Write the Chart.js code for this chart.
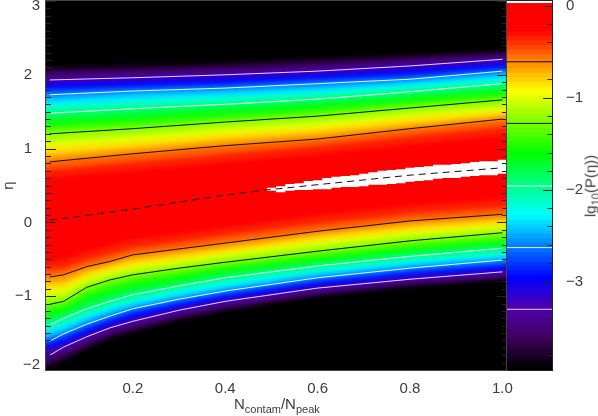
<!DOCTYPE html>
<html lang="en">
<head>
<meta charset="UTF-8">
<title>P(eta) map</title>
<script src="https://cdn.jsdelivr.net/npm/chart.js@4"></script>
<style>
    body { margin: 0; background: #fff; }
    canvas { position: absolute; top: 0; }
    .lbl { position: absolute; font: 15px "Liberation Sans", sans-serif; color: #3c3c3c; white-space: nowrap; }
    .lbl sub { font-size: 11px; line-height: 0; }
</style>
</head>
<body>
<canvas id="map" width="598" height="416" style="left:0"></canvas>
<canvas id="bar" width="91" height="416" style="left:507px"></canvas>
<div class="lbl" style="left:234px;top:395px">N<sub>contam</sub>/N<sub>peak</sub></div>
<div class="lbl" style="left:590px;top:186px;transform:translate(-50%,-50%) rotate(-90deg)">lg<sub>10</sub>(P(η))</div>

<script>
// axis limits and ticks
const xMin = 0.012, xMax = 1.01, yMin = -2, yMax = 3;
const xTicks = [0.2, 0.4, 0.6, 0.8, 1.0];
const yTicks = [-2, -1, 0, 1, 2, 3];
const barMin = -3.96, barMax = 0.05;
const barTicks = [-3, -2, -1, 0];

// lg10(P) of each band
const levels = [-3.95, -3.79, -3.63, -3.46, -3.30, -3.13, -2.96, -2.80, -2.63, -2.46, -2.30, -2.13,
    -1.96, -1.79, -1.62, -1.45, -1.28, -1.11, -0.95, -0.78, -0.61, -0.45, -0.30];

// eta where each level crosses above the peak, one row per level
// (end columns run a little past the axis, the plot area clips them)
const upperX = [0, 0.2, 0.4, 0.6, 0.8, 1.03];
const upperEta = [
    [2.12, 2.15, 2.17, 2.23, 2.28, 2.34],
    [2.07, 2.09, 2.13, 2.19, 2.24, 2.31],
    [2.02, 2.05, 2.08, 2.13, 2.20, 2.27],
    [1.97, 2.00, 2.04, 2.09, 2.16, 2.24],
    [1.93, 1.96, 2.00, 2.05, 2.12, 2.21],
    [1.88, 1.92, 1.96, 2.01, 2.08, 2.17],
    [1.82, 1.86, 1.90, 1.96, 2.02, 2.13],
    [1.78, 1.82, 1.86, 1.92, 1.98, 2.09],
    [1.73, 1.78, 1.82, 1.88, 1.94, 2.05],
    [1.66, 1.73, 1.77, 1.82, 1.90, 2.01],
    [1.60, 1.66, 1.71, 1.77, 1.85, 1.96],
    [1.54, 1.60, 1.66, 1.73, 1.81, 1.92],
    [1.48, 1.54, 1.60, 1.67, 1.77, 1.88],
    [1.41, 1.47, 1.55, 1.62, 1.71, 1.82],
    [1.33, 1.40, 1.48, 1.55, 1.66, 1.77],
    [1.27, 1.33, 1.41, 1.50, 1.60, 1.71],
    [1.20, 1.27, 1.36, 1.44, 1.55, 1.66],
    [1.10, 1.18, 1.28, 1.36, 1.48, 1.59],
    [1.01, 1.09, 1.20, 1.28, 1.41, 1.52],
    [0.91, 1.01, 1.12, 1.21, 1.33, 1.47],
    [0.82, 0.93, 1.04, 1.13, 1.27, 1.40],
    [0.71, 0.82, 0.93, 1.04, 1.17, 1.31],
    [0.60, 0.71, 0.82, 0.93, 1.06, 1.20]
];

// same thing below the peak
const lowerX = [0, 0.05, 0.1, 0.15, 0.2, 0.3, 0.4, 0.6, 0.8, 1.03];
const lowerEta = [
    [-2.03, -1.89, -1.73, -1.59, -1.50, -1.34, -1.21, -1.01, -0.88, -0.77],
    [-1.97, -1.84, -1.69, -1.55, -1.46, -1.30, -1.17, -0.98, -0.85, -0.74],
    [-1.92, -1.80, -1.65, -1.51, -1.42, -1.27, -1.15, -0.96, -0.82, -0.73],
    [-1.85, -1.74, -1.59, -1.47, -1.38, -1.23, -1.11, -0.92, -0.79, -0.70],
    [-1.80, -1.69, -1.55, -1.43, -1.34, -1.19, -1.07, -0.89, -0.77, -0.67],
    [-1.74, -1.65, -1.51, -1.39, -1.30, -1.15, -1.04, -0.86, -0.73, -0.63],
    [-1.70, -1.61, -1.47, -1.35, -1.25, -1.12, -1.00, -0.82, -0.70, -0.59],
    [-1.65, -1.55, -1.42, -1.31, -1.21, -1.08, -0.97, -0.79, -0.66, -0.55],
    [-1.61, -1.51, -1.38, -1.27, -1.17, -1.04, -0.93, -0.75, -0.62, -0.51],
    [-1.55, -1.46, -1.32, -1.21, -1.13, -1.00, -0.89, -0.71, -0.58, -0.47],
    [-1.50, -1.40, -1.28, -1.17, -1.08, -0.96, -0.85, -0.67, -0.54, -0.43],
    [-1.44, -1.35, -1.23, -1.12, -1.04, -0.90, -0.79, -0.63, -0.50, -0.39],
    [-1.39, -1.30, -1.17, -1.07, -0.98, -0.86, -0.75, -0.59, -0.46, -0.35],
    [-1.32, -1.24, -1.11, -1.00, -0.92, -0.81, -0.70, -0.54, -0.40, -0.29],
    [-1.25, -1.19, -1.02, -0.92, -0.85, -0.75, -0.64, -0.50, -0.36, -0.25],
    [-1.17, -1.12, -0.96, -0.86, -0.78, -0.69, -0.59, -0.44, -0.31, -0.20],
    [-1.11, -1.07, -0.88, -0.78, -0.71, -0.62, -0.54, -0.39, -0.25, -0.14],
    [-1.01, -0.98, -0.81, -0.72, -0.65, -0.56, -0.47, -0.32, -0.18, -0.08],
    [-0.93, -0.89, -0.74, -0.65, -0.58, -0.50, -0.41, -0.25, -0.12, -0.02],
    [-0.83, -0.81, -0.67, -0.59, -0.51, -0.43, -0.35, -0.18, -0.05, 0.05],
    [-0.74, -0.71, -0.60, -0.53, -0.44, -0.36, -0.28, -0.12, 0.02, 0.11],
    [-0.64, -0.62, -0.51, -0.43, -0.35, -0.27, -0.18, -0.02, 0.11, 0.21],
    [-0.54, -0.51, -0.40, -0.32, -0.24, -0.16, -0.08, 0.09, 0.22, 0.32]
];

// contour lines: rows of the tables above, and the lg10(P) they sit at on the colour bar
const contourRows = [4, 8, 12, 16, 20];
const contourLevels = [-3.30, -2.63, -1.96, -1.28, -0.61];
const contourColors = ['rgba(255,255,255,0.85)', 'rgba(255,255,255,0.9)', 'rgba(255,255,255,0.9)', '#111', '#111'];
const contourUpperX = [0.02, 0.2, 0.4, 0.6, 0.8, 1.0];
const contourLowerX = [0.02, 0.05, 0.1, 0.15, 0.2, 0.3, 0.4, 0.6, 0.8, 1.0];

// dashed line through the peak
const peakX = [0.02, 0.2, 0.4, 0.49, 0.8, 1.0];
const peakEta = [0.03, 0.18, 0.37, 0.44, 0.64, 0.74];

// saturated cells (white), one entry per 0.02 wide column starting at x = 0.49
const whiteStart = 0.49, whiteStep = 0.02;
const whiteTop = [0.47, 0.49, 0.52, 0.53, 0.56, 0.57, 0.60, 0.62, 0.63, 0.64, 0.66, 0.68, 0.70,
    0.71, 0.72, 0.74, 0.75, 0.76, 0.78, 0.78, 0.79, 0.80, 0.82, 0.83, 0.83, 0.85];
const whiteBottom = [0.43, 0.41, 0.43, 0.44, 0.44, 0.45, 0.45, 0.47, 0.48, 0.48, 0.49, 0.51, 0.51,
    0.52, 0.53, 0.55, 0.56, 0.57, 0.59, 0.60, 0.60, 0.62, 0.63, 0.64, 0.64, 0.66];

// colour table, lg10(P) -> rgb
const colorStops = [
    [-3.96, 0, 0, 0], [-3.63, 64, 0, 96], [-3.30, 80, 0, 176], [-2.98, 0, 0, 255], [-2.63, 0, 128, 255],
    [-2.30, 0, 255, 255], [-1.96, 0, 255, 128], [-1.63, 0, 255, 0], [-1.28, 128, 255, 0],
    [-0.95, 255, 255, 0], [-0.62, 255, 128, 0], [-0.30, 255, 0, 0], [0.02, 255, 0, 0]
];

function colorFor(v) {
    if (v <= colorStops[0][0]) return 'rgb(0,0,0)';
    for (let i = 1; i < colorStops.length; i++) {
        const a = colorStops[i - 1], b = colorStops[i];
        if (v <= b[0]) {
            const t = (v - a[0]) / (b[0] - a[0]);
            return 'rgb(' + [1, 2, 3].map(k => Math.round(a[k] + (b[k] - a[k]) * t)).join(',') + ')';
        }
    }
    return 'rgb(255,0,0)';
}

function zip(xs, ys) {
    return xs.map((x, i) => ({x: x, y: ys[i]}));
}

function area(points, color) {
    return {data: points, showLine: true, fill: 'shape', backgroundColor: color, borderColor: 'transparent',
        borderWidth: 0, pointRadius: 0, pointHoverRadius: 0};
}

function line(points, color, dash) {
    return {data: points, showLine: true, fill: false, borderColor: color, borderWidth: 1,
        borderDash: dash || [], pointRadius: 0, pointHoverRadius: 0};
}

function whiteCells() {
    const top = [], bottom = [];
    whiteTop.forEach((v, i) => {
        const x0 = whiteStart + i * whiteStep, x1 = x0 + whiteStep;
        top.push({x: x0, y: v}, {x: x1, y: v});
        bottom.push({x: x0, y: whiteBottom[i]}, {x: x1, y: whiteBottom[i]});
    });
    return top.concat(bottom.reverse());
}

// first dataset ends up on top, so lines come first and the black ground last
const mapSets = [];
contourRows.forEach((row, i) => {
    mapSets.push(line(zip(contourUpperX, upperEta[row]), contourColors[i]));
    mapSets.push(line(zip(contourLowerX, lowerEta[row]), contourColors[i]));
});
mapSets.push(line(zip(peakX, peakEta), '#111', [7, 5]));
const sharpCount = mapSets.length + 1; // lines + white cells, no blur on those
mapSets.push(area(whiteCells(), '#fff'));
for (let i = levels.length - 1; i >= 0; i--) {
    const mid = i + 1 < levels.length ? (levels[i] + levels[i + 1]) / 2 : levels[i];
    const up = zip(upperX, upperEta[i]);
    const low = zip(lowerX, lowerEta[i]).reverse();
    mapSets.push(area(up.concat(low), colorFor(mid)));
}
// ground goes past the axes so the blur does not show its edge
mapSets.push(area([{x: xMin - 0.1, y: yMin - 1}, {x: xMin - 0.1, y: yMax + 1}, {x: xMax + 0.1, y: yMax + 1}, {x: xMax + 0.1, y: yMin - 1}], '#000'));

const barSets = contourLevels.map((v, i) => line([{x: 0, y: v}, {x: 1, y: v}], contourColors[i]));
for (let v = 0.02; v > barMin; v -= 0.05) {
    barSets.push(area([{x: 0, y: v}, {x: 0, y: 0.02}, {x: 1, y: 0.02}, {x: 1, y: v}], colorFor(v)));
}
barSets.push(area([{x: 0, y: barMin}, {x: 0, y: -3.9}, {x: 1, y: -3.9}, {x: 1, y: barMin}], '#000'));

const tickFont = {family: '"Liberation Sans", sans-serif', size: 15};
const inkColor = '#3c3c3c';

function minus(v) {
    return String(v).replace('-', '\u2212');
}

// soften the colour bands a bit, the original image is interpolated between cells
const softBands = {
    id: 'softBands',
    beforeDatasetsDraw(chart) {
        chart.ctx.filter = 'blur(2px)';
    },
    afterDatasetDraw(chart, args) {
        chart.ctx.filter = args.index - 1 < sharpCount ? 'none' : 'blur(2px)';
    },
    afterDatasetsDraw(chart) {
        chart.ctx.filter = 'none';
    }
};

// IDL style inward ticks, frame, and the two y labels pushed inside the plot height
const mapTicks = {
    id: 'mapTicks',
    afterDatasetsDraw(chart) {
        const ctx = chart.ctx, y = chart.scales.y, a = chart.chartArea;
        ctx.save();
        ctx.strokeStyle = '#222';
        ctx.lineWidth = 1;
        ctx.beginPath();
        for (let k = 0; k <= 50; k++) {
            const p = Math.round(y.getPixelForValue(yMin + k * 0.1)) + 0.5;
            const len = k % 10 === 0 ? 10 : 5;
            ctx.moveTo(a.left, p); ctx.lineTo(a.left + len, p);
            ctx.moveTo(a.right, p); ctx.lineTo(a.right - len, p);
        }
        ctx.stroke();
        ctx.strokeStyle = '#444';
        ctx.strokeRect(a.left - 0.5, a.top - 0.5, a.right - a.left, a.bottom - a.top + 1);
        ctx.restore();
    },
    afterDraw(chart) {
        const ctx = chart.ctx, y = chart.scales.y, a = chart.chartArea;
        ctx.save();
        ctx.font = '15px "Liberation Sans", sans-serif';
        ctx.fillStyle = inkColor;
        ctx.textAlign = 'right';
        ctx.textBaseline = 'middle';
        ctx.fillText(minus(yMin), a.left - 6, y.getPixelForValue(yMin) - 5);
        ctx.fillText(String(yMax), a.left - 6, y.getPixelForValue(yMax) + 5);
        ctx.restore();
    }
};

const barFrame = {
    id: 'barFrame',
    afterDatasetsDraw(chart) {
        const ctx = chart.ctx, y = chart.scales.y, a = chart.chartArea;
        ctx.save();
        ctx.strokeStyle = '#222';
        ctx.lineWidth = 1;
        ctx.beginPath();
        for (let k = 0; k < 20; k++) {
            const p = Math.round(y.getPixelForValue(-k * 0.2)) + 0.5;
            ctx.moveTo(a.right, p);
            ctx.lineTo(a.right - (k % 5 === 0 ? 9 : 4.5), p);
        }
        ctx.stroke();
        ctx.strokeRect(a.left - 0.5, a.top - 0.5, a.right - a.left + 1, a.bottom - a.top + 1);
        ctx.restore();
    }
};

new Chart(document.getElementById('map'), {
    type: 'scatter',
    data: {datasets: mapSets},
    plugins: [softBands, mapTicks],
    options: {
        responsive: false,
        animation: false,
        layout: {padding: {top: 1, right: 91, left: 0, bottom: 0}},
        plugins: {legend: {display: false}, tooltip: {enabled: false}},
        scales: {
            x: {
                min: xMin, max: xMax,
                afterFit: s => { s.height = 46; s.paddingLeft = 0; s.paddingRight = 0; },
                afterBuildTicks: s => { s.ticks = xTicks.map(v => ({value: v})); },
                grid: {display: false},
                border: {display: false},
                ticks: {font: tickFont, color: inkColor, padding: 2, maxRotation: 0, autoSkip: false,
                    callback: v => v.toFixed(1)}
            },
            y: {
                min: yMin, max: yMax,
                afterFit: s => { s.width = 46; s.paddingTop = 0; s.paddingBottom = 0; },
                afterBuildTicks: s => { s.ticks = yTicks.map(v => ({value: v})); },
                title: {display: true, text: 'η', font: tickFont, color: inkColor, padding: 0},
                grid: {display: false},
                border: {display: false},
                ticks: {font: tickFont, color: inkColor, padding: 6, autoSkip: false,
                    callback: v => (v === yMin || v === yMax) ? '' : minus(v)}
            }
        }
    }
});

new Chart(document.getElementById('bar'), {
    type: 'scatter',
    data: {datasets: barSets},
    plugins: [barFrame],
    options: {
        responsive: false,
        animation: false,
        layout: {padding: {top: 1, bottom: 46, left: 0, right: 0}},
        plugins: {legend: {display: false}, tooltip: {enabled: false}},
        scales: {
            x: {min: 0, max: 1, display: false},
            y: {
                position: 'right',
                min: barMin, max: barMax,
                afterFit: s => { s.width = 46; s.paddingTop = 0; s.paddingBottom = 0; },
                afterBuildTicks: s => { s.ticks = barTicks.map(v => ({value: v})); },
                grid: {display: false},
                border: {display: false},
                ticks: {font: tickFont, color: inkColor, padding: 6, autoSkip: false, callback: v => minus(v)}
            }
        }
    }
});
</script>
</body>
</html>
